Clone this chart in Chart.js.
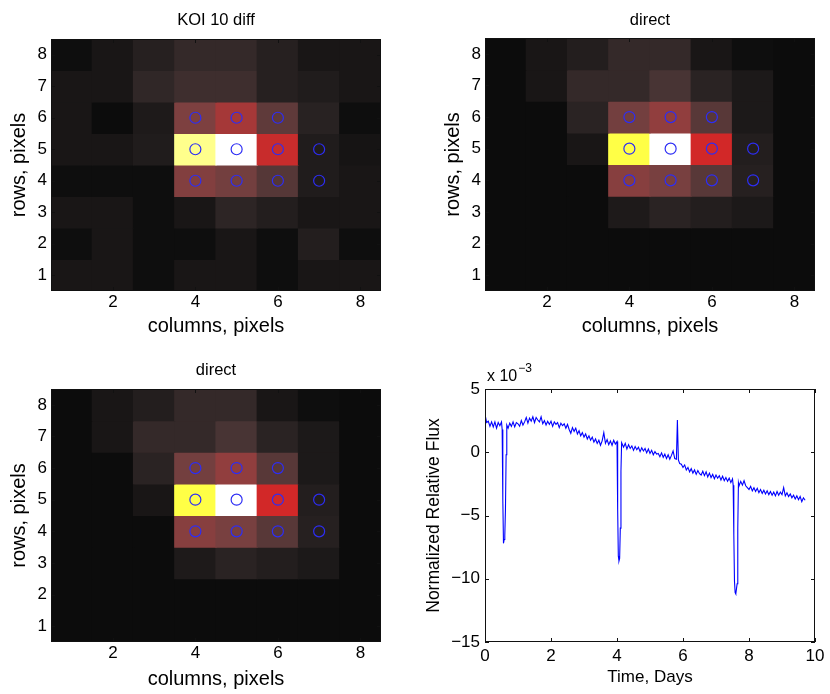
<!DOCTYPE html>
<html>
<head>
<meta charset="utf-8">
<script src="https://cdn.jsdelivr.net/npm/chart.js@4.4.1/dist/chart.umd.min.js"></script>
<style>
  body { margin: 0; background: #fff; }
  #fig { position: relative; width: 830px; height: 694px; }
  canvas { position: absolute; }
</style>
</head>
<body>
<div id="fig">
  <canvas id="koi-diff" width="415" height="347" style="left:0;top:0"></canvas>
  <canvas id="direct-top" width="415" height="347" style="left:415px;top:0"></canvas>
  <canvas id="direct-bottom" width="415" height="347" style="left:0;top:347px"></canvas>
  <canvas id="flux" width="415" height="347" style="left:415px;top:347px"></canvas>
</div>
<script>
/*-----------------------------
Pixel images (rows listed top to bottom: 8 .. 1)
------------------------------*/
const colLabels = ['1', '2', '3', '4', '5', '6', '7', '8'];
const rowOrder = [8, 7, 6, 5, 4, 3, 2, 1];
const colTicks = [2, 4, 6, 8];
const rowTicks = [1, 2, 3, 4, 5, 6, 7, 8];

const koiDiff = [
  [0.007, 0.045, 0.093, 0.138, 0.138, 0.093, 0.045, 0.045],
  [0.045, 0.045, 0.125, 0.169, 0.169, 0.093, 0.071, 0.045],
  [0.045, 0.000, 0.064, 0.367, 0.488, 0.272, 0.100, 0.007],
  [0.045, 0.045, 0.071, 0.876, 1.000, 0.575, 0.071, 0.036],
  [0.007, 0.007, 0.007, 0.383, 0.334, 0.240, 0.071, 0.045],
  [0.045, 0.045, 0.007, 0.045, 0.116, 0.082, 0.045, 0.045],
  [0.007, 0.045, 0.007, 0.007, 0.045, 0.007, 0.082, 0.007],
  [0.045, 0.045, 0.007, 0.045, 0.045, 0.007, 0.045, 0.045]
];

const directImg = [
  [0.000, 0.045, 0.082, 0.138, 0.138, 0.045, 0.007, 0.000],
  [0.000, 0.045, 0.138, 0.138, 0.200, 0.106, 0.057, 0.000],
  [0.000, 0.000, 0.106, 0.334, 0.433, 0.250, 0.057, 0.000],
  [0.000, 0.000, 0.045, 0.800, 1.000, 0.600, 0.082, 0.000],
  [0.000, 0.000, 0.000, 0.400, 0.350, 0.250, 0.093, 0.000],
  [0.000, 0.000, 0.000, 0.064, 0.106, 0.082, 0.057, 0.000],
  [0.000, 0.000, 0.000, 0.000, 0.000, 0.000, 0.000, 0.000],
  [0.000, 0.000, 0.000, 0.000, 0.000, 0.000, 0.000, 0.000]
];

// optimal aperture pixels (circles)
const apertureCols = [4, 5, 6, 4, 5, 6, 7, 4, 5, 6, 7];
const apertureRows = [6, 6, 6, 5, 5, 5, 5, 4, 4, 4, 4];

/*-----------------------------
Light curve (flux in units of 1e-3)
------------------------------*/
const timeDays = [
  0.00, 0.05, 0.10, 0.15, 0.20, 0.25, 0.30, 0.35, 0.40, 0.45,
  0.50, 0.52, 0.54, 0.56, 0.58, 0.60, 0.62, 0.64, 0.66, 0.70,
  0.75, 0.80, 0.85, 0.90, 0.95, 1.00, 1.05, 1.10, 1.15, 1.20,
  1.25, 1.30, 1.35, 1.40, 1.45, 1.50, 1.55, 1.60, 1.65, 1.70,
  1.75, 1.80, 1.85, 1.90, 1.95, 2.00, 2.05, 2.10, 2.15, 2.20,
  2.25, 2.30, 2.35, 2.40, 2.45, 2.50, 2.55, 2.60, 2.65, 2.70,
  2.75, 2.80, 2.85, 2.90, 2.95, 3.00, 3.05, 3.10, 3.15, 3.20,
  3.25, 3.30, 3.35, 3.40, 3.45, 3.50, 3.55, 3.60, 3.65, 3.70,
  3.75, 3.80, 3.85, 3.90, 3.95, 4.00, 4.02, 4.04, 4.06, 4.08,
  4.10, 4.12, 4.14, 4.20, 4.25, 4.30, 4.35, 4.40, 4.45, 4.50,
  4.55, 4.60, 4.65, 4.70, 4.75, 4.80, 4.85, 4.90, 4.95, 5.00,
  5.05, 5.10, 5.15, 5.20, 5.25, 5.30, 5.35, 5.40, 5.45, 5.50,
  5.55, 5.60, 5.65, 5.70, 5.75, 5.80, 5.83, 5.86, 5.90, 5.95,
  6.00, 6.05, 6.10, 6.15, 6.20, 6.25, 6.30, 6.35, 6.40, 6.45,
  6.50, 6.55, 6.60, 6.65, 6.70, 6.75, 6.80, 6.85, 6.90, 6.95,
  7.00, 7.05, 7.10, 7.15, 7.20, 7.25, 7.30, 7.35, 7.40, 7.45,
  7.50, 7.52, 7.54, 7.56, 7.58, 7.60, 7.62, 7.64, 7.66, 7.68,
  7.70, 7.75, 7.80, 7.85, 7.90, 7.95, 8.00, 8.05, 8.10, 8.15,
  8.20, 8.25, 8.30, 8.35, 8.40, 8.45, 8.50, 8.55, 8.60, 8.65,
  8.70, 8.75, 8.80, 8.85, 8.90, 8.95, 9.00, 9.05, 9.10, 9.15,
  9.20, 9.25, 9.30, 9.35, 9.40, 9.45, 9.50, 9.55, 9.60, 9.65,
  9.70
];
const fluxE3 = [
  3.00, 2.35, 2.45, 2.05, 2.40, 2.00, 2.40, 1.90, 2.35, 2.10,
  2.40, 1.80, -3.80, -7.20, -6.90, -6.60, -4.50, -0.20, 2.15, 1.90,
  2.30, 2.05, 2.40, 2.00, 2.35, 2.25, 2.05, 2.50, 2.15, 2.40,
  2.75, 2.30, 2.70, 2.45, 2.80, 2.35, 2.75, 2.55, 2.40, 2.80,
  2.25, 2.50, 2.15, 2.45, 2.20, 2.45, 2.05, 2.40, 2.20, 2.35,
  1.95, 2.30, 2.10, 2.25, 1.90, 2.20, 1.80, 1.50, 1.95, 1.65,
  1.90, 1.45, 1.70, 1.30, 1.55, 1.20, 1.45, 1.05, 1.30, 0.95,
  1.20, 0.80, 1.05, 0.70, 0.95, 0.55, 0.90, 1.55, 0.70, 1.00,
  0.60, 0.90, 0.55, 0.95, 0.65, 0.85, -4.50, -8.20, -8.60, -8.40,
  -6.00, -1.50, 0.75, 0.40, 0.70, 0.25, 0.60, 0.30, 0.50, 0.15,
  0.45, 0.20, 0.40, 0.05, 0.35, 0.10, 0.30, -0.05, 0.25, -0.10,
  0.15, -0.20, 0.05, -0.15, -0.10, -0.35, -0.05, -0.40, -0.15, -0.50,
  -0.20, -0.55, -0.25, 0.10, -0.50, -0.55, 2.55, -0.60, -0.90, -0.95,
  -1.20, -1.00, -1.40, -1.20, -1.55, -1.30, -1.65, -1.40, -1.75, -1.45,
  -1.70, -1.80, -1.50, -1.85, -1.55, -1.95, -1.65, -2.00, -1.75, -2.10,
  -1.80, -2.05, -1.85, -2.20, -1.90, -2.25, -2.00, -2.30, -2.05, -2.40,
  -2.10, -2.60, -6.50, -10.20, -11.10, -11.20, -10.80, -10.40, -6.00, -2.40,
  -2.65, -2.30, -2.60, -2.25, -2.65, -2.80, -2.95, -2.70, -3.05, -2.80,
  -3.10, -2.85, -3.20, -2.95, -3.25, -3.00, -3.30, -3.05, -3.35, -3.10,
  -3.40, -3.15, -3.45, -3.10, -3.40, -3.15, -3.35, -2.80, -3.45, -3.20,
  -3.50, -3.30, -3.60, -3.40, -3.70, -3.45, -3.75, -3.50, -3.90, -3.60,
  -3.80
];
const fluxXTicks = [0, 2, 4, 6, 8, 10];
const fluxYTicks = [-15, -10, -5, 0, 5];

/*-----------------------------
Colour map (dark -> brown -> red -> yellow -> white)
------------------------------*/
const cmap = [
  [0.00, 12, 12, 12],
  [0.10, 40, 34, 34],
  [0.20, 72, 52, 52],
  [0.35, 120, 64, 64],
  [0.45, 150, 62, 62],
  [0.60, 210, 40, 40],
  [0.80, 255, 255, 70],
  [1.00, 255, 255, 255]
];

function heatColor(v) {
  for (let i = 1; i < cmap.length; i++) {
    if (v <= cmap[i][0]) {
      const a = cmap[i - 1], b = cmap[i];
      const t = (v - a[0]) / (b[0] - a[0]);
      return 'rgb(' + [1, 2, 3].map(k => Math.round(a[k] + t * (b[k] - a[k]))).join(',') + ')';
    }
  }
  return 'rgb(255,255,255)';
}

const FONT = '"Liberation Sans", Arial, Helvetica, sans-serif';
const minus = v => String(v).replace('-', '\u2212');

// frame, inward ticks, panel title and exponent label
const panelDecor = {
  id: 'panelDecor',
  afterDraw(chart, args, opts) {
    const { ctx, chartArea: a, scales: { x, y } } = chart;
    ctx.save();
    ctx.strokeStyle = '#111';
    ctx.lineWidth = 1;
    ctx.strokeRect(a.left + 0.5, a.top + 0.5, a.right - a.left - 1, a.bottom - a.top - 1);
    ctx.beginPath();
    const len = 4;
    x.ticks.forEach((t, i) => {
      const px = Math.round(x.getPixelForTick(i)) + 0.5;
      ctx.moveTo(px, a.bottom); ctx.lineTo(px, a.bottom - len);
      ctx.moveTo(px, a.top); ctx.lineTo(px, a.top + len);
    });
    y.ticks.forEach((t, i) => {
      const py = Math.round(y.getPixelForTick(i)) + 0.5;
      ctx.moveTo(a.left, py); ctx.lineTo(a.left + len, py);
      ctx.moveTo(a.right, py); ctx.lineTo(a.right - len, py);
    });
    ctx.stroke();
    ctx.fillStyle = '#000';
    if (opts.title) {
      ctx.font = '16.5px ' + FONT;
      ctx.textAlign = 'center';
      ctx.textBaseline = 'middle';
      ctx.fillText(opts.title, (a.left + a.right) / 2, opts.titleY);
    }
    if (opts.exponent) {
      ctx.textAlign = 'left';
      ctx.textBaseline = 'alphabetic';
      ctx.font = '16px ' + FONT;
      ctx.fillText('x 10', a.left + 2, a.top - 8);
      const w = ctx.measureText('x 10').width;
      ctx.font = '12px ' + FONT;
      ctx.fillText(opts.exponent, a.left + 2 + w + 1, a.top - 17);
    }
    ctx.restore();
  }
};

/*-----------------------------
Pixel image panel
------------------------------*/
function pixelPanel(id, title, img, m) {
  const cells = img.map((vals, i) => ({
    type: 'bar',
    data: vals.map(() => [rowOrder[i] - 0.5, rowOrder[i] + 0.5]),
    backgroundColor: vals.map(heatColor),
    grouped: false,
    barPercentage: 1,
    categoryPercentage: 1,
    borderWidth: 0,
    inflateAmount: 0.6,
    order: 2
  }));
  const circles = {
    type: 'scatter',
    data: apertureCols.map((c, i) => ({ x: String(c), y: apertureRows[i] })),
    pointStyle: 'circle',
    pointRadius: 5.5,
    borderColor: 'rgb(45,45,245)',
    backgroundColor: 'rgba(0,0,0,0)',
    borderWidth: 1.2,
    order: 0
  };
  return new Chart(document.getElementById(id), {
    type: 'bar',
    data: { labels: colLabels, datasets: cells.concat([circles]) },
    options: {
      responsive: false,
      animation: false,
      events: [],
      layout: { padding: { top: m.top, right: m.right, left: 0, bottom: 0 } },
      plugins: {
        legend: { display: false },
        tooltip: { enabled: false },
        panelDecor: { title: title, titleY: m.titleY }
      },
      scales: {
        x: {
          type: 'category',
          offset: true,
          grid: { display: false, drawTicks: false },
          border: { display: false },
          afterBuildTicks: s => { s.ticks = s.ticks.filter(t => colTicks.includes(Number(colLabels[t.value]))); },
          afterFit: s => { s.height = m.bottom; },
          ticks: { color: '#000', font: { family: FONT, size: 17 }, padding: 1, maxRotation: 0, autoSkip: false },
          title: { display: true, text: 'columns, pixels', color: '#000', font: { family: FONT, size: 20 }, padding: { bottom: m.xTitlePad } }
        },
        y: {
          type: 'linear',
          min: 0.5,
          max: 8.5,
          grid: { display: false, drawTicks: false },
          border: { display: false },
          afterBuildTicks: s => { s.ticks = rowTicks.map(v => ({ value: v })); },
          afterFit: s => { s.width = m.left; },
          ticks: { color: '#000', font: { family: FONT, size: 17 }, padding: 4 },
          title: { display: true, text: 'rows, pixels', color: '#000', font: { family: FONT, size: 20 }, padding: { top: m.yTitlePad } }
        }
      }
    },
    plugins: [panelDecor]
  });
}

pixelPanel('koi-diff', 'KOI 10 diff', koiDiff,
  { left: 51, right: 34, top: 39, bottom: 56, titleY: 20, yTitlePad: 7, xTitlePad: 9 });
pixelPanel('direct-top', 'direct', directImg,
  { left: 70, right: 15, top: 38, bottom: 56, titleY: 20, yTitlePad: 26, xTitlePad: 9 });
pixelPanel('direct-bottom', 'direct', directImg,
  { left: 51, right: 34, top: 42, bottom: 52, titleY: 23, yTitlePad: 7, xTitlePad: 3 });

/*-----------------------------
Light curve panel
------------------------------*/
new Chart(document.getElementById('flux'), {
  type: 'line',
  data: {
    datasets: [{
      data: timeDays.map((t, i) => ({ x: t, y: fluxE3[i] })),
      borderColor: '#0000ff',
      borderWidth: 1.1,
      pointRadius: 0,
      tension: 0,
      fill: false
    }]
  },
  options: {
    responsive: false,
    animation: false,
    events: [],
    layout: { padding: { top: 42, right: 15, left: 0, bottom: 0 } },
    plugins: {
      legend: { display: false },
      tooltip: { enabled: false },
      panelDecor: { exponent: '\u22123' }
    },
    scales: {
      x: {
        type: 'linear',
        min: 0,
        max: 10,
        grid: { display: false, drawTicks: false },
        border: { display: false },
        afterBuildTicks: s => { s.ticks = fluxXTicks.map(v => ({ value: v })); },
        afterFit: s => { s.height = 52; },
        ticks: { color: '#000', font: { family: FONT, size: 17 }, padding: 4, maxRotation: 0 },
        title: { display: true, text: 'Time, Days', color: '#000', font: { family: FONT, size: 17 }, padding: { bottom: 6.8 } }
      },
      y: {
        type: 'linear',
        min: -15,
        max: 5,
        grid: { display: false, drawTicks: false },
        border: { display: false },
        afterBuildTicks: s => { s.ticks = fluxYTicks.map(v => ({ value: v })); },
        afterFit: s => { s.width = 70; },
        ticks: { color: '#000', font: { family: FONT, size: 17 }, padding: 5, callback: v => minus(v) },
        title: { display: true, text: 'Normalized Relative Flux', color: '#000', font: { family: FONT, size: 17.5 }, padding: { top: 8.5 } }
      }
    }
  },
  plugins: [panelDecor]
});
</script>
</body>
</html>
